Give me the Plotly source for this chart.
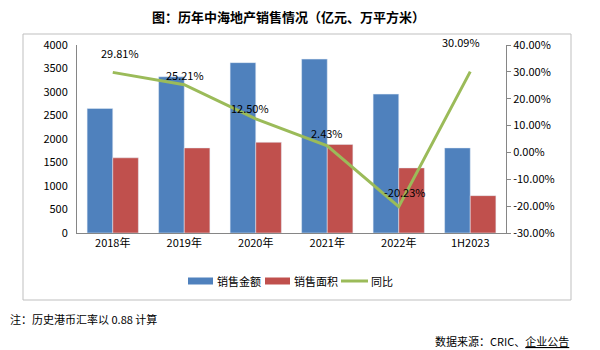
import plotly.graph_objects as go

categories = ["2018年", "2019年", "2020年", "2021年", "2022年", "1H2023"]
sales_amount = [2650, 3325, 3625, 3700, 2955, 1810]   # 销售金额（亿元）
sales_area = [1600, 1810, 1930, 1885, 1385, 795]      # 销售面积（万平方米）
yoy_pct = [29.81, 25.21, 12.50, 2.43, -20.23, 30.09]  # 同比（%）
left_ticks = [0, 500, 1000, 1500, 2000, 2500, 3000, 3500, 4000]
right_ticks = [-30, -20, -10, 0, 10, 20, 30, 40]
series_names = ["销售金额", "销售面积", "同比"]

# label offsets (pixels) to mimic the reference label placement
label_dx = [7, 1, -6, 0, 6, -9]
label_dy = [19, 10, 11, 13, 15, 30]

FONT = "Noto Sans CJK SC"
BLUE = "#4F81BD"
RED = "#C0504D"
GREEN = "#9BBB59"
AXIS = "#868686"

fig = go.Figure()
fig.add_trace(go.Bar(x=categories, y=sales_amount, name=series_names[0], marker_color=BLUE))
fig.add_trace(go.Bar(x=categories, y=sales_area, name=series_names[1], marker_color=RED))
fig.add_trace(go.Scatter(x=categories, y=yoy_pct, name=series_names[2], yaxis="y2", mode="lines",
                         line=dict(color=GREEN, width=3)))

for c, v, dx, dy in zip(categories, yoy_pct, label_dx, label_dy):
    fig.add_annotation(x=c, y=v, xref="x", yref="y2", text=f"{v:.2f}%", showarrow=False,
                       xshift=dx, yshift=dy, font=dict(family=FONT, size=11, color="#000000"))

L, R, T, B = 77, 94, 45, 117
pw, ph = 600 - L - R, 350 - T - B

def px(xp):
    return (xp - L) / pw

def py(yp):
    return (350 - B - yp) / ph

# outer chart frame
fig.add_shape(type="rect", xref="paper", yref="paper", x0=px(23), x1=px(571), y0=py(300), y1=py(34),
              line=dict(color="#BFBFBF", width=1), layer="below")

# compact legend drawn like the reference (wide swatches)
leg_y = 281
legend_items = [
    (series_names[0], BLUE, "rect", 188, 213, 215),
    (series_names[1], RED, "rect", 265, 290, 292),
    (series_names[2], GREEN, "line", 341, 368, 369),
]
for name, col, kind, x0, x1, tx in legend_items:
    if kind == "rect":
        fig.add_shape(type="rect", xref="paper", yref="paper", x0=px(x0), x1=px(x1),
                      y0=py(leg_y + 3.5), y1=py(leg_y - 3.5), fillcolor=col, line=dict(width=0))
    else:
        fig.add_shape(type="line", xref="paper", yref="paper", x0=px(x0), x1=px(x1),
                      y0=py(leg_y), y1=py(leg_y), line=dict(color=col, width=3))
    fig.add_annotation(xref="paper", yref="paper", x=px(tx), y=py(leg_y), text=name, showarrow=False,
                       xanchor="left", yanchor="middle", font=dict(family=FONT, size=11, color="#000000"))

fig.add_annotation(xref="paper", yref="paper", x=px(288), y=py(17), text="<b>图：历年中海地产销售情况（亿元、万平方米）</b>",
                   showarrow=False, xanchor="center", yanchor="middle", font=dict(family=FONT, size=13, color="#000000"))
fig.add_annotation(xref="paper", yref="paper", x=px(8), y=py(319), text="注：历史港币汇率以 0.88 计算",
                   showarrow=False, xanchor="left", yanchor="middle", font=dict(family=FONT, size=11, color="#000000"))
fig.add_annotation(xref="paper", yref="paper", x=px(571), y=py(341), text="数据来源：CRIC、<u>企业公告</u>",
                   showarrow=False, xanchor="right", yanchor="middle", font=dict(family=FONT, size=11, color="#000000"))

fig.update_layout(
    width=600, height=350,
    margin=dict(l=L, r=R, t=T, b=B),
    paper_bgcolor="white", plot_bgcolor="white",
    barmode="group", bargap=0.283, bargroupgap=0,
    font=dict(family=FONT, size=11, color="#000000"),
    showlegend=False,
    xaxis=dict(showline=True, linecolor=AXIS, linewidth=1, ticks="", showgrid=False,
               tickfont=dict(family=FONT, size=11)),
    yaxis=dict(range=[0, 4000], tickvals=left_ticks, showline=True, linecolor=AXIS, linewidth=1,
               ticks="", showgrid=False, zeroline=False, tickfont=dict(family=FONT, size=11), ticklabelstandoff=6),
    yaxis2=dict(range=[-30, 40], tickvals=right_ticks, ticktext=[f"{t:.2f}%" for t in right_ticks],
                overlaying="y", side="right", showline=True, linecolor=AXIS, linewidth=1,
                ticks="outside", ticklen=4, tickcolor=AXIS, showgrid=False, zeroline=False,
                tickfont=dict(family=FONT, size=11)),
)

fig.write_html("out.html")
